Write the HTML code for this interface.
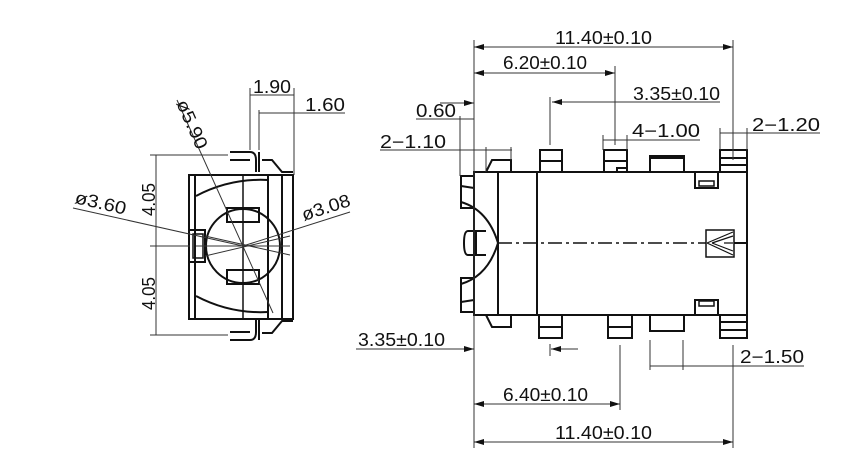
<!DOCTYPE html>
<html><head><meta charset="utf-8"><style>
html,body{margin:0;padding:0;background:#fff;}
svg{display:block}
text{font-family:"Liberation Sans","DejaVu Sans",sans-serif;fill:#111;}
</style></head><body>
<svg width="860" height="474" viewBox="0 0 860 474" xmlns="http://www.w3.org/2000/svg">
<defs>
<marker id="a" viewBox="0 0 10 6" refX="10" refY="3" markerWidth="12" markerHeight="6" orient="auto-start-reverse" markerUnits="userSpaceOnUse"><path d="M0,0 L10,3 L0,6 z" fill="#111"/></marker>
</defs>
<g stroke="#111" fill="none" stroke-width="2">
<rect x="474" y="172" width="273" height="143"/>
<line x1="498" y1="172" x2="498" y2="315"/>
<line x1="537" y1="172" x2="537" y2="315"/>
<polyline points="474,176 461,176 461,208 474,208"/>
<polyline points="474,278 461,278 461,312 474,312"/>
<path d="M461,186 L474,188 M461,302 L474,300"/>
<path d="M461,202 Q488,210 498,243 Q488,276 461,284"/>
<path d="M468,231 Q464,231 464,243 Q464,255 468,255 L486,255 M468,231 L486,231 M476,231 L476,255"/>
<polyline points="486,172 492,160 511,160 511,172"/>
<polyline points="486,315 492,327 511,327 511,315"/>
<rect x="540" y="150" width="22" height="22"/><line x1="540" y1="161" x2="562" y2="161"/>
<rect x="604" y="150" width="23" height="22"/><polyline points="604,161 627,161 627,168 617,168 617,172"/>
<rect x="650" y="156" width="34" height="16"/><line x1="650" y1="158" x2="684" y2="158"/>
<rect x="695" y="172" width="23" height="16"/><rect x="699" y="181" width="15" height="5" stroke-width="1.5"/>
<rect x="720" y="150" width="27" height="22"/><line x1="720" y1="158" x2="747" y2="158"/><line x1="720" y1="165" x2="747" y2="165"/>
<rect x="539" y="315" width="23" height="23"/><line x1="539" y1="327" x2="562" y2="327"/>
<rect x="608" y="315" width="24" height="23"/><line x1="608" y1="327" x2="632" y2="327"/>
<rect x="650" y="315" width="34" height="16"/>
<rect x="695" y="300" width="23" height="15"/><rect x="699" y="301" width="15" height="5" stroke-width="1.5"/>
<rect x="720" y="315" width="27" height="23"/><line x1="720" y1="322" x2="747" y2="322"/><line x1="720" y1="330" x2="747" y2="330"/>
<rect x="706" y="230" width="28" height="27" stroke-width="1.5"/>
<path d="M707,243 L733,232 M707,243 L733,255 M712,243 L733,236 M712,243 L733,251 M724,243 L733,243" stroke-width="1.2"/>
<line x1="734" y1="243" x2="747" y2="243"/>
</g>
<line x1="498" y1="243" x2="706" y2="243" stroke="#111" stroke-width="1.5" stroke-dasharray="14,4,3,4"/>

<g stroke="#333" stroke-width="1" fill="none">
<line x1="474" y1="40" x2="474" y2="448"/>
<line x1="733" y1="40" x2="733" y2="160"/>
<line x1="733" y1="345" x2="733" y2="448"/>
<line x1="615" y1="66" x2="615" y2="145"/>
<line x1="550" y1="97" x2="550" y2="145"/>
<line x1="620" y1="345" x2="620" y2="410"/>
<line x1="650" y1="340" x2="650" y2="370"/>
<line x1="683" y1="340" x2="683" y2="370"/>
<line x1="460" y1="116" x2="460" y2="176"/>
<line x1="486" y1="147" x2="486" y2="172"/>
<line x1="511" y1="147" x2="511" y2="160"/>
<line x1="603" y1="135" x2="603" y2="150"/><line x1="627" y1="135" x2="627" y2="150"/>
<line x1="720" y1="128" x2="720" y2="150"/><line x1="747" y1="128" x2="747" y2="150"/>
<line x1="550" y1="344" x2="550" y2="356"/>
<line x1="474" y1="47" x2="733" y2="47" marker-start="url(#a)" marker-end="url(#a)"/>
<line x1="474" y1="73" x2="615" y2="73" marker-start="url(#a)" marker-end="url(#a)"/>
<line x1="720" y1="102" x2="552" y2="102" marker-end="url(#a)"/>
<line x1="603" y1="140" x2="700" y2="140"/>
<line x1="720" y1="133" x2="820" y2="133"/>
<line x1="416" y1="119" x2="474" y2="119"/>
<line x1="440" y1="103" x2="474" y2="103" marker-end="url(#a)"/>
<line x1="380" y1="150" x2="512" y2="150"/>
<line x1="356" y1="349" x2="474" y2="349" marker-end="url(#a)"/>
<line x1="578" y1="349" x2="551" y2="349" marker-end="url(#a)"/>
<line x1="474" y1="404" x2="620" y2="404" marker-start="url(#a)" marker-end="url(#a)"/>
<line x1="474" y1="442" x2="733" y2="442" marker-start="url(#a)" marker-end="url(#a)"/>
<line x1="650" y1="366" x2="804" y2="366"/>
</g>
<g font-size="18" lengthAdjust="spacingAndGlyphs">
<text x="555" y="44" textLength="97" lengthAdjust="spacingAndGlyphs">11.40±0.10</text>
<text x="503" y="69" textLength="84" lengthAdjust="spacingAndGlyphs">6.20±0.10</text>
<text x="633" y="100" textLength="87" lengthAdjust="spacingAndGlyphs">3.35±0.10</text>
<text x="632" y="137" textLength="68" lengthAdjust="spacingAndGlyphs">4−1.00</text>
<text x="752" y="131" textLength="68" lengthAdjust="spacingAndGlyphs">2−1.20</text>
<text x="416" y="117" textLength="40" lengthAdjust="spacingAndGlyphs">0.60</text>
<text x="380" y="148" textLength="66" lengthAdjust="spacingAndGlyphs">2−1.10</text>
<text x="358" y="346" textLength="87" lengthAdjust="spacingAndGlyphs">3.35±0.10</text>
<text x="503" y="401" textLength="85" lengthAdjust="spacingAndGlyphs">6.40±0.10</text>
<text x="555" y="439" textLength="97" lengthAdjust="spacingAndGlyphs">11.40±0.10</text>
<text x="740" y="363" textLength="64" lengthAdjust="spacingAndGlyphs">2−1.50</text>
</g>

<g stroke="#111" fill="none" stroke-width="2">
<rect x="189" y="175" width="104" height="144"/>
<line x1="195" y1="175" x2="195" y2="319"/>
<line x1="268" y1="175" x2="268" y2="319"/>
<line x1="282" y1="175" x2="282" y2="319"/>
<path d="M196,196 Q230,178 268,180"/>
<path d="M196,296 Q230,314 268,312"/>
<circle cx="243" cy="246" r="37"/>
<rect x="227" y="208" width="32" height="14"/>
<rect x="227" y="270" width="32" height="14"/>
<rect x="189" y="230" width="16" height="32"/>
<rect x="193" y="234" width="10" height="24" stroke-width="1.5"/>
<line x1="243" y1="175" x2="243" y2="319" stroke-width="1.5"/>
<path d="M230,152 L250,152 Q256,152 256,160 L256,172 M230,160 L250,160 M259,152 L259,172"/>
<path d="M230,340 L250,340 Q256,340 256,332 L256,320 M230,332 L250,332 M259,340 L259,320"/>
<polyline points="262,160 272,160 282,172 293,172"/>
<polyline points="262,333 272,333 282,321 293,321"/>
</g>
<g stroke="#333" stroke-width="1" fill="none">
<line x1="196" y1="246" x2="290" y2="246"/>
<line x1="177" y1="100" x2="273" y2="313"/>
<line x1="73" y1="208" x2="243" y2="246"/>
<line x1="243" y1="246" x2="350" y2="212"/>
<line x1="205" y1="236" x2="290" y2="255"/>
<line x1="205" y1="256" x2="290" y2="236"/>
<line x1="156" y1="155" x2="156" y2="335"/>
<line x1="150" y1="155" x2="228" y2="155"/>
<line x1="150" y1="246" x2="190" y2="246"/>
<line x1="150" y1="335" x2="228" y2="335"/>
<line x1="250" y1="88" x2="250" y2="150"/>
<line x1="294" y1="88" x2="294" y2="175"/>
<line x1="259" y1="110" x2="259" y2="150"/>
<line x1="250" y1="95" x2="294" y2="95"/>
<line x1="259" y1="113" x2="345" y2="113"/>
</g>
<g font-size="18">
<text x="253" y="93" textLength="38" lengthAdjust="spacingAndGlyphs">1.90</text>
<text x="305" y="111" textLength="40" lengthAdjust="spacingAndGlyphs">1.60</text>
<text transform="translate(176,103) rotate(66)" textLength="52" lengthAdjust="spacingAndGlyphs">ø5.90</text>
<text transform="translate(74,203) rotate(13)" textLength="52" lengthAdjust="spacingAndGlyphs">ø3.60</text>
<text transform="translate(304,221) rotate(-18)" textLength="50" lengthAdjust="spacingAndGlyphs">ø3.08</text>
<text transform="translate(155,216) rotate(-90)" textLength="33" lengthAdjust="spacingAndGlyphs">4.05</text>
<text transform="translate(155,310) rotate(-90)" textLength="33" lengthAdjust="spacingAndGlyphs">4.05</text>
</g>
</svg>
</body></html>
